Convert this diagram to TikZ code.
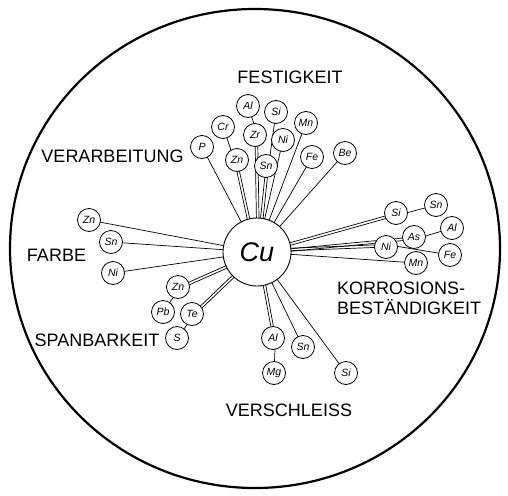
\documentclass[tikz,border=0pt]{standalone}
\usepackage{fontspec}
\setmainfont{Liberation Sans}
\usetikzlibrary{backgrounds}
\begin{document}
\begin{tikzpicture}[x=1pt,y=-1pt,
  el/.style={circle,draw,fill=white,line width=0.8pt,minimum size=23pt,inner sep=0pt,font=\fontsize{10.5}{11}\selectfont\itshape},
  core/.style={circle,draw,fill=white,line width=0.9pt,minimum size=68pt,inner sep=0pt,font=\fontsize{27}{29}\selectfont\itshape},
  cat/.style={font=\fontsize{18}{20}\selectfont,inner sep=0pt},
  ln/.style={line width=0.7pt}]
\useasboundingbox (0,0) rectangle (508,495);
\draw[line width=2.2pt] (255,248.5) ellipse [x radius=245pt, y radius=239.5pt];

\node[core] (cu) at (257,252) {Cu};

% Festigkeit / Verarbeitung
\node[el] (fAl) at (248,106) {Al};
\node[el] (fSi) at (276,112) {Si};
\node[el] (fMn) at (306,123) {Mn};
\node[el] (fCr) at (223,127) {Cr};
\node[el] (fZr) at (255,135) {Zr};
\node[el] (fNi) at (283,140) {Ni};
\node[el] (fP)  at (202,147) {P};
\node[el] (fZn) at (237,160) {Zn};
\node[el] (fSn) at (266,166) {Sn};
\node[el] (fFe) at (312,157) {Fe};
\node[el] (fBe) at (345,153) {Be};

% Farbe
\node[el] (aZn) at (89,220) {Zn};
\node[el] (aSn) at (111,242) {Sn};
\node[el] (aNi) at (113,273) {Ni};

% Spanbarkeit
\node[el] (sZn) at (178,287) {Zn};
\node[el] (sPb) at (163,312) {Pb};
\node[el] (sTe) at (192,314) {Te};
\node[el] (sS)  at (177,338) {S};

% Verschleiss
\node[el] (vAl) at (273,338) {Al};
\node[el] (vMg) at (274,373) {Mg};
\node[el] (vSn) at (303,347) {Sn};
\node[el] (vSi) at (346,373) {Si};

% Korrosion
\node[el] (kSi) at (396,213) {Si};
\node[el] (kSn) at (436,205) {Sn};
\node[el] (kAs) at (414,237) {As};
\node[el] (kAl) at (452,228) {Al};
\node[el] (kNi) at (386,247) {Ni};
\node[el] (kFe) at (450,255) {Fe};
\node[el] (kMn) at (416,263) {Mn};

% Labels
\node[cat] (lFest) at (290,77) {FESTIGKEIT};
\node[cat] (lVer) at (112.5,156) {VERARBEITUNG};
\node[cat] (lFar) at (56.5,255) {FARBE};
\node[cat] (lSpan) at (97,340) {SPANBARKEIT};
\node[cat] (lVers) at (289,410) {VERSCHLEISS};
\node[cat,anchor=west,align=left] (lKorr) at (337,298) {KORROSIONS-\\BESTÄNDIGKEIT};

\begin{scope}[on background layer]
  \foreach \n in {fP,fZn,fZr,fSn,fNi,fMn,fFe,fBe,aZn,aSn,aNi,sZn,sTe,vAl,vSn,vSi,kSi,kAs,kNi,kMn}
    \draw[ln] (cu.center) -- (\n.center);
  % bundles through inner circles
  \draw[ln] ([xshift=-2.6pt]cu.center) -- ([xshift=-2.6pt]fZn.center) -- (fCr.center);
  \draw[ln] ([xshift=2.6pt]cu.center) -- ([xshift=2.6pt]fZr.center) -- (fAl.center);
  \draw[ln] ([xshift=2.6pt]cu.center) -- ([xshift=2.6pt]fSn.center) -- (fSi.center);
  \draw[ln] ([shift={(1,2.4)}]cu.center) -- ([shift={(1,2.4)}]sZn.center) -- (sPb.center);
  \draw[ln] ([shift={(1.8,1.8)}]cu.center) -- ([shift={(1.8,1.8)}]sTe.center) -- (sS.center);
  \draw[ln] ([shift={(2.5,-0.5)}]cu.center) -- ([shift={(2.5,-0.5)}]vAl.center) -- (vMg.center);
  \draw[ln] ([shift={(0.7,2.5)}]cu.center) -- ([shift={(0.7,2.5)}]kSi.center) -- (kSn.center);
  \draw[ln] ([yshift=-2.5pt]cu.center) -- ([yshift=-2.5pt]kAs.center) -- (kAl.center);
  \draw[ln] ([yshift=2.5pt]cu.center) -- ([yshift=2.5pt]kNi.center) -- (kFe.center);
\end{scope}
\end{tikzpicture}
\end{document}
